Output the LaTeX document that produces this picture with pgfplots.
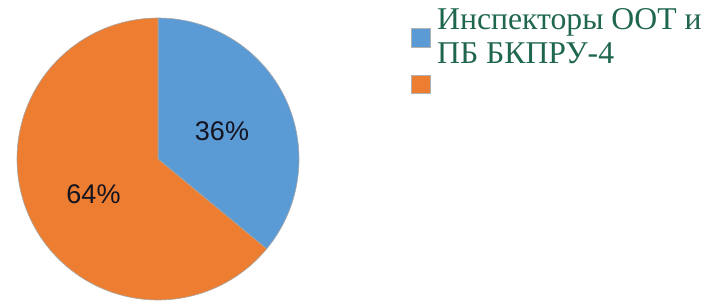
\documentclass[border=0pt]{standalone}
\usepackage{pgfplots}
\pgfplotsset{compat=1.18}
\usepackage{pgfplotstable}
\usepackage{fontspec}
\setmainfont{Liberation Serif}
\newfontfamily\arial{Liberation Sans}
\definecolor{pieblue}{HTML}{5B9BD5}
\definecolor{pieorange}{HTML}{ED7D31}
\definecolor{legtext}{HTML}{1E6650}
\definecolor{lbl}{HTML}{141420}
\pgfplotstableread{
label value
A 36
B 64
}\piedata
\begin{document}%
\begin{tikzpicture}
\pgfplotstablegetelem{0}{value}\of\piedata
\pgfmathsetmacro\va{\pgfplotsretval}
\pgfplotstablegetelem{1}{value}\of\piedata
\pgfmathsetmacro\vb{\pgfplotsretval}
\pgfmathsetmacro\aS{90-3.6*\va}
\pgfmathsetmacro\bE{90+3.6*\vb}
\begin{axis}[
  scale only axis, width=709pt, height=303pt,
  xmin=0, xmax=709, ymin=0, ymax=303,
  hide axis, clip=false,
]
\path (rel axis cs:0,0) rectangle (rel axis cs:1,1);
\addplot[fill=pieblue, draw=gray!70, line width=0.6pt, domain=\aS:90, samples=120, variable=\t]
  ({158+141*cos(t)},{144+141*sin(t)}) -- (axis cs:158,144) -- cycle;
\addplot[fill=pieorange, draw=gray!70, line width=0.6pt, domain=90:\bE, samples=200, variable=\t]
  ({158+141*cos(t)},{144+141*sin(t)}) -- (axis cs:158,144) -- cycle;
\node[text=lbl, font=\arial\fontsize{27}{30}\selectfont] at (axis cs:222,172) {36\%};
\node[text=lbl, font=\arial\fontsize{27}{30}\selectfont] at (axis cs:93.5,109) {64\%};
% legend
\fill[pieblue, draw=gray!60, line width=0.4pt] (axis cs:411,256) rectangle (axis cs:430,275);
\fill[pieorange, draw=gray!60, line width=0.4pt] (axis cs:411,210) rectangle (axis cs:430,228);
\node[anchor=base west, inner sep=0pt, text=legtext, font=\fontsize{31.7}{34}\selectfont] at (axis cs:437,273) {Инспекторы ООТ и};
\node[anchor=base west, inner sep=0pt, text=legtext, font=\fontsize{31.7}{34}\selectfont] at (axis cs:437,239) {ПБ БКПРУ-4};
\end{axis}
\end{tikzpicture}%
\end{document}
